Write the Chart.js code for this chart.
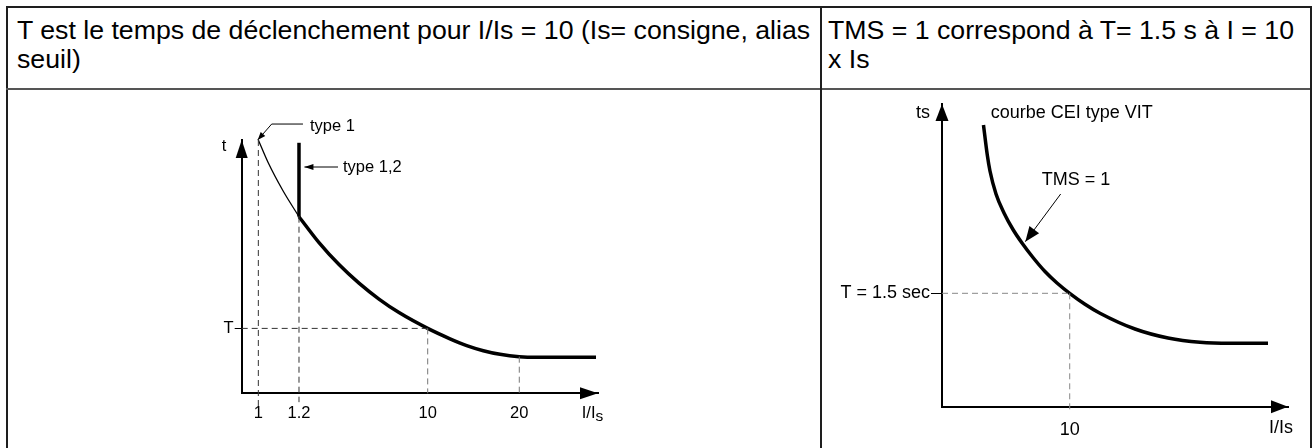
<!DOCTYPE html>
<html lang="fr">
<head>
<meta charset="utf-8">
<title>Courbes de déclenchement</title>
<script src="https://cdn.jsdelivr.net/npm/chart.js@4.4.1/dist/chart.umd.min.js"></script>
<style>
  html, body { margin: 0; padding: 0; background: #fff; }
  body { width: 1312px; height: 448px; position: relative; overflow: hidden;
         font-family: 'Liberation Sans', Arial, sans-serif; color: #000; }
  .rule { position: absolute; background: #1e1e1e; }
  .head { position: absolute; font-size: 26.7px; line-height: 29px; white-space: nowrap; }
  canvas { position: absolute; }
</style>
</head>
<body>
  <div class="rule" style="left:6px;top:6px;width:1306px;height:2px"></div>
  <div class="rule" style="left:6px;top:6px;width:2px;height:442px"></div>
  <div class="rule" style="left:6px;top:88px;width:1306px;height:2px;background:#555"></div>
  <div class="rule" style="left:820px;top:6px;width:2px;height:442px"></div>
  <div class="rule" style="left:1310px;top:6px;width:2px;height:442px"></div>

  <div class="head" style="left:17px;top:16px">T est le temps de déclenchement pour I/Is = 10 (Is= consigne, alias<br>seuil)</div>
  <div class="head" style="left:828px;top:16px">TMS = 1 correspond à T= 1.5 s à I = 10<br>x Is</div>

  <canvas id="left" width="500" height="340" style="left:140px;top:100px"></canvas>
  <canvas id="right" width="470" height="356" style="left:840px;top:90px"></canvas>

<script>
// Schéma de gauche (unités du schéma, axes de 0 à 100)
const leftTickPos = [4.67, 16.08, 52.20, 77.91];
const leftTickLabels = ['1', '1.2', '10', '20'];
const leftYTickLabel = 'T';
const leftThinX = [4.67, 7.38, 11.59, 16.08];
const leftThinY = [100, 91.2, 79.95, 69.72];
const leftThickX = [16.08, 21.70, 27.31, 32.92, 38.53, 44.15, 52.20, 58.46, 63.15, 67.81, 72.50, 77.91, 82.80, 99.44];
const leftThickY = [69.72, 59.49, 50.81, 43.47, 37.19, 31.86, 25.62, 21.52, 18.83, 16.82, 15.40, 14.45, 14.21, 14.21];
const leftStepTop = 98.9;

// Schéma de droite : courbe CEI type VIT, TMS = 1
const rightTickPos = [36.91];
const rightTickLabels = ['10'];
const rightYTickLabel = 'T = 1.5 sec';
const rightCurveX = [11.99, 13.09, 13.87, 15.61, 17.92, 20.52, 23.12, 26.30, 29.77, 33.24, 36.91, 41.33, 45.66, 55.78, 65.32, 74.57, 83.24, 94.22];
const rightCurveY = [93.06, 83.15, 77.87, 70.27, 63.99, 58.54, 54.08, 49.29, 44.66, 40.87, 37.46, 33.86, 30.89, 25.67, 22.70, 21.28, 20.94, 20.94];

const FONT = "'Liberation Sans', Arial, sans-serif";
Chart.defaults.font.family = FONT;
Chart.defaults.color = '#000';

function yAt(xs, ys, x) {
  return ys[xs.indexOf(x)];
}

function pts(xs, ys) {
  return xs.map((x, i) => ({ x, y: ys[i] }));
}

function curve(data, width) {
  return {
    data, borderColor: '#000', borderWidth: width, pointRadius: 0,
    cubicInterpolationMode: 'monotone', clip: false, borderCapStyle: 'butt'
  };
}

function guide(data, color) {
  return {
    data, borderColor: color, borderWidth: 1, borderDash: [6, 4],
    pointRadius: 0, tension: 0, clip: false
  };
}

function head(ctx, fx, fy, tx, ty, len, half) {
  const a = Math.atan2(ty - fy, tx - fx);
  const bx = tx - len * Math.cos(a), by = ty - len * Math.sin(a);
  ctx.beginPath();
  ctx.moveTo(tx, ty);
  ctx.lineTo(bx + half * Math.sin(a), by - half * Math.cos(a));
  ctx.lineTo(bx - half * Math.sin(a), by + half * Math.cos(a));
  ctx.closePath();
  ctx.fill();
}

// flèches des axes, repères et textes du schéma
const sketch = {
  id: 'sketch',
  afterDraw(chart, args, o) {
    const { ctx, chartArea: a, scales: { x, y } } = chart;
    ctx.save();
    ctx.fillStyle = '#000';
    ctx.strokeStyle = '#000';
    head(ctx, a.left, a.top + 20, a.left, a.top, o.axisLen, o.axisHalf);
    head(ctx, a.right - 20, a.bottom, a.right, a.bottom, o.axisLen, o.axisHalf);

    for (const ar of o.arrows) {
      const p = ar.path.map(([vx, vy]) => [x.getPixelForValue(vx), y.getPixelForValue(vy)]);
      ctx.lineWidth = 1;
      ctx.beginPath();
      p.forEach(([px, py], i) => (i ? ctx.lineTo(px, py) : ctx.moveTo(px, py)));
      ctx.stroke();
      const [fx, fy] = p[p.length - 2];
      const [tx, ty] = p[p.length - 1];
      head(ctx, fx, fy, tx, ty, ar.len, ar.half);
    }

    ctx.textBaseline = 'middle';
    for (const t of o.texts) {
      const px = x.getPixelForValue(t.x), py = y.getPixelForValue(t.y);
      ctx.font = `${o.fontSize}px ${FONT}`;
      ctx.textAlign = t.align || 'left';
      ctx.fillText(t.text, px, py);
      if (t.sub) {
        const w = ctx.measureText(t.text).width;
        ctx.font = `${o.fontSize - 1}px ${FONT}`;
        ctx.textAlign = 'left';
        ctx.fillText(t.sub, px + w, py + 4);
      }
    }
    ctx.restore();
  }
};

function axes(o) {
  return {
    x: {
      type: 'linear', min: 0, max: 100,
      grid: { display: false, drawTicks: false },
      border: { display: true, color: '#000', width: 2 },
      afterBuildTicks: s => { s.ticks = o.xTicks.map(v => ({ value: v })); },
      afterFit: s => { s.height = o.xHeight; },
      ticks: {
        autoSkip: false, maxRotation: 0, padding: o.xPad,
        font: { size: o.fontSize }, callback: (v, i) => o.xLabels[i]
      }
    },
    y: {
      type: 'linear', min: 0, max: 100,
      grid: { display: true, drawOnChartArea: false, drawTicks: true, tickLength: o.tickLen, color: '#000', lineWidth: 1 },
      border: { display: true, color: '#000', width: 2 },
      afterBuildTicks: s => { s.ticks = [{ value: o.yTick }]; },
      afterFit: s => { s.width = o.yWidth; },
      ticks: {
        autoSkip: false, padding: 1,
        font: { size: o.fontSize }, callback: () => o.yLabel
      }
    }
  };
}

function base(padding, scales, sketchOpts, datasets) {
  return {
    type: 'line',
    data: { datasets },
    options: {
      responsive: false, animation: false, devicePixelRatio: 1,
      layout: { padding },
      plugins: { legend: { display: false }, tooltip: { enabled: false }, sketch: sketchOpts },
      scales
    },
    plugins: [sketch]
  };
}

// --- gauche ---
const leftT = yAt(leftThickX, leftThickY, leftTickPos[2]);
const leftT20 = yAt(leftThickX, leftThickY, leftTickPos[3]);
new Chart(document.getElementById('left'), base(
  { top: 40, right: 42, left: 0, bottom: 0 },
  axes({ xTicks: leftTickPos, xLabels: leftTickLabels, xHeight: 46.7, xPad: 10,
         yTick: leftT, yLabel: leftYTickLabel, yWidth: 101.7, tickLen: 7, fontSize: 16.5 }),
  {
    axisLen: 18, axisHalf: 6, fontSize: 16.5,
    texts: [
      { text: 't', x: -4.97, y: 97.36, align: 'center' },
      { text: 'type 1', x: 19.17, y: 105.25 },
      { text: 'type 1,2', x: 28.43, y: 89.34 },
      { text: 'I/I', sub: 's', x: 95.43, y: -7.78 }
    ],
    arrows: [
      { path: [[17.2, 106.3], [8.42, 106.3], [4.49, 100]], len: 8, half: 3 },
      { path: [[27.03, 89.34], [17.6, 89.34]], len: 9, half: 3 }
    ]
  },
  [
    guide([{ x: leftTickPos[0], y: leftThinY[0] }, { x: leftTickPos[0], y: -5 }], '#333'),
    guide([{ x: leftTickPos[1], y: leftThickY[0] }, { x: leftTickPos[1], y: -3.5 }], '#333'),
    guide([{ x: leftTickPos[2], y: leftT }, { x: leftTickPos[2], y: 0 }], '#777'),
    guide([{ x: leftTickPos[3], y: leftT20 }, { x: leftTickPos[3], y: 0 }], '#777'),
    guide([{ x: 0, y: leftT }, { x: leftTickPos[2], y: leftT }], '#333'),
    curve(pts(leftThinX, leftThinY), 1.3),
    curve(pts(leftThickX, leftThickY), 3.5),
    curve([{ x: leftTickPos[1], y: leftThickY[0] }, { x: leftTickPos[1], y: leftStepTop }], 3.5)
  ]
));

// --- droite ---
const rightT = yAt(rightCurveX, rightCurveY, rightTickPos[0]);
new Chart(document.getElementById('right'), base(
  { top: 14, right: 22, left: 0, bottom: 0 },
  axes({ xTicks: rightTickPos, xLabels: rightTickLabels, xHeight: 39.3, xPad: 13,
         yTick: rightT, yLabel: rightYTickLabel, yWidth: 102, tickLen: 11, fontSize: 18 }),
  {
    axisLen: 17, axisHalf: 6.5, fontSize: 18,
    texts: [
      { text: 'ts', x: -5.49, y: 97.03, align: 'center' },
      { text: 'courbe CEI type VIT', x: 14.08, y: 97.03 },
      { text: 'TMS = 1', x: 38.73, y: 74.92, align: 'center' },
      { text: 'I/Is', x: 97.98, y: -7.04, align: 'center' }
    ],
    arrows: [
      { path: [[34.30, 70.27], [24.08, 54.52]], len: 15, half: 6 }
    ]
  },
  [
    guide([{ x: 0, y: rightT }, { x: rightTickPos[0], y: rightT }], '#888'),
    guide([{ x: rightTickPos[0], y: rightT }, { x: rightTickPos[0], y: -2 }], '#888'),
    curve(pts(rightCurveX, rightCurveY), 3.5)
  ]
));
</script>
</body>
</html>
